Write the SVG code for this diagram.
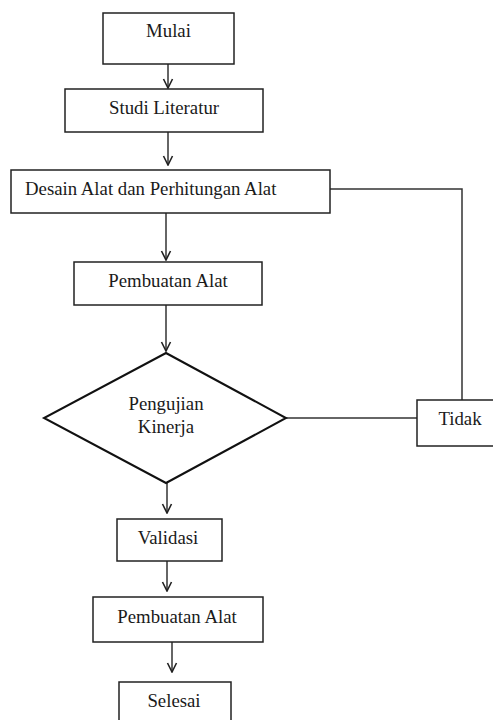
<svg xmlns="http://www.w3.org/2000/svg" width="493" height="720" viewBox="0 0 493 720">
<style>
.box{fill:#fff;stroke:#222;stroke-width:1.5}
.dia{fill:#fff;stroke:#111;stroke-width:2}
.ln{fill:none;stroke:#333;stroke-width:1.5}
.t{font-family:"Liberation Serif","Times New Roman",serif;font-size:18.8px;fill:#1a1a1a;text-anchor:middle}
</style>
<defs>
<marker id="arr" viewBox="0 0 12 12" refX="11" refY="6" markerWidth="12" markerHeight="12" markerUnits="userSpaceOnUse" orient="auto">
<path d="M2,1.5 L11,6 L2,10.5" fill="none" stroke="#222" stroke-width="1.6"/>
</marker>
</defs>
<rect width="493" height="720" fill="#fff"/>
<g id="connectors">
<line class="ln" x1="168" y1="64" x2="168" y2="88" marker-end="url(#arr)"/>
<line class="ln" x1="168" y1="132" x2="168" y2="165" marker-end="url(#arr)"/>
<line class="ln" x1="166" y1="213" x2="166" y2="260" marker-end="url(#arr)"/>
<line class="ln" x1="166" y1="305" x2="166" y2="351" marker-end="url(#arr)"/>
<line class="ln" x1="167" y1="483" x2="167" y2="513" marker-end="url(#arr)"/>
<line class="ln" x1="167" y1="561" x2="167" y2="591" marker-end="url(#arr)"/>
<line class="ln" x1="172" y1="642" x2="172" y2="672" marker-end="url(#arr)"/>
<line class="ln" x1="286" y1="418" x2="417" y2="418"/>
<polyline class="ln" points="462,400 462,189 330,189"/>
</g>
<g id="mulai"><rect class="box" x="103" y="13" width="131" height="51"/><text class="t" x="168.5" y="37">Mulai</text></g>
<g id="studi"><rect class="box" x="65" y="89" width="198" height="43"/><text class="t" x="164" y="114">Studi Literatur</text></g>
<g id="desain"><rect class="box" x="11" y="170" width="319" height="43"/><text class="t" x="25" y="195" style="text-anchor:start">Desain Alat dan Perhitungan Alat</text></g>
<g id="pembuatan1"><rect class="box" x="74" y="262" width="188" height="43"/><text class="t" x="168" y="287">Pembuatan Alat</text></g>
<g id="pengujian"><polygon class="dia" points="166,353 286,418 166,483 44,418"/><text class="t" x="166" y="410">Pengujian</text><text class="t" x="166" y="433">Kinerja</text></g>
<g id="tidak"><rect class="box" x="417" y="400" width="90" height="46"/><text class="t" x="460" y="425">Tidak</text></g>
<g id="validasi"><rect class="box" x="117" y="519" width="105" height="42"/><text class="t" x="168" y="544">Validasi</text></g>
<g id="pembuatan2"><rect class="box" x="93" y="597" width="170" height="45"/><text class="t" x="177" y="623">Pembuatan Alat</text></g>
<g id="selesai"><rect class="box" x="119" y="682" width="112" height="50"/><text class="t" x="174" y="707">Selesai</text></g>
</svg>
